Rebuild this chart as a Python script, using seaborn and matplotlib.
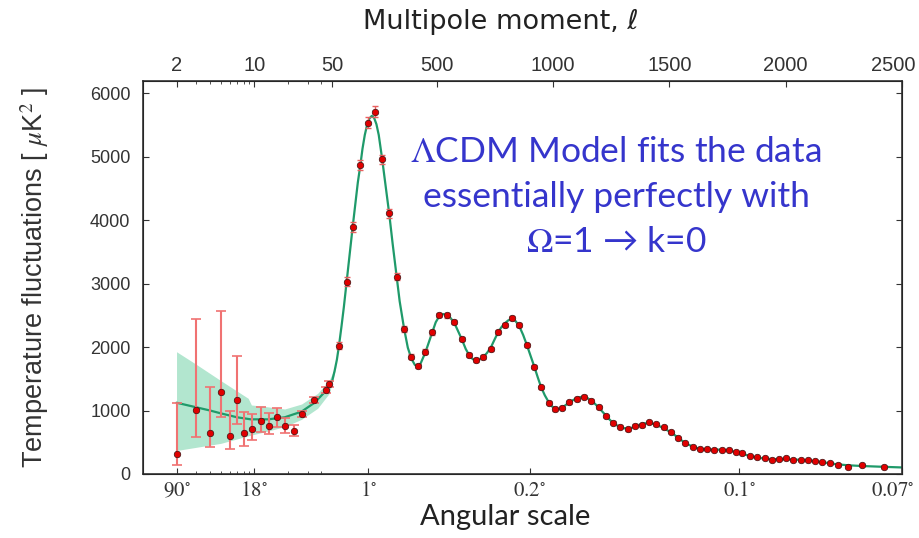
import numpy as np
import matplotlib
matplotlib.use('Agg')
import matplotlib.pyplot as plt
from matplotlib.ticker import FixedLocator, NullFormatter
from matplotlib.transforms import ScaledTranslation
import seaborn as sns

# low-ell points (binned), with asymmetric error bars
lo_ell = [2, 3, 4, 5, 6, 7, 8, 9.5, 11.5, 13.5, 16, 18.9, 22.6, 26.9, 34.3, 44.2, 46.7]
lo_D = [310, 1008, 651, 1286, 598, 1165, 640, 714, 840, 761, 893, 761, 682, 945, 1165, 1323, 1417]
lo_up = [1113, 2441, 1365, 2572, 992, 1863, 982, 940, 1050, 955, 1045, 887, 772, 1000, 1210, 1370, 1460]
lo_dn = [142, 578, 420, 903, 394, 783, 446, 535, 656, 625, 745, 651, 598, 890, 1120, 1280, 1375]

# high-ell binned points
hi_ell = [79, 112, 138, 171, 203, 234, 264, 295, 327, 359,
          389, 418, 451, 481, 511, 543, 575, 608, 639, 669,
          698, 731, 763, 791, 823, 854, 888, 919, 948, 981,
          1010, 1040, 1070, 1103, 1132, 1164, 1196, 1228, 1256, 1289,
          1321, 1350, 1381, 1411, 1443, 1475, 1505, 1536, 1568, 1601,
          1631, 1663, 1693, 1725, 1756, 1785, 1814, 1846, 1878, 1910,
          1941, 1971, 2003, 2033, 2064, 2096, 2126, 2158, 2190, 2223,
          2266, 2326, 2421]
hi_D = [2021, 3030, 3895, 4866, 5533, 5706, 4956, 4105, 3110, 2283,
        1845, 1701, 1923, 2231, 2504, 2499, 2394, 2121, 1869, 1795,
        1837, 1969, 2236, 2341, 2462, 2341, 2025, 1690, 1365, 1123,
        1024, 1045, 1129, 1181, 1216, 1152, 1050, 913, 808, 745,
        703, 761, 766, 819, 782, 735, 667, 572, 493, 430,
        394, 394, 383, 383, 373, 352, 331, 283, 263, 247,
        220, 236, 247, 220, 226, 216, 200, 189, 173, 142,
        115, 137, 115]
hi_err = [60, 70, 80, 80, 85, 85, 75, 65, 55, 45,
          40, 38, 38, 38, 38, 38, 36, 34, 32, 32,
          32, 32, 32, 32, 32, 30, 30, 28, 26, 25,
          24, 24, 24, 24, 24, 22, 22, 22, 20, 20,
          20, 20, 20, 20, 20, 20, 18, 18, 18, 18,
          18, 18, 18, 18, 18, 18, 18, 18, 18, 18,
          18, 18, 18, 18, 18, 18, 18, 18, 18, 18,
          18, 18, 18]

# best-fit model curve
model_ell = [2, 3, 4, 5, 7, 9.3, 13.3, 18.7, 26.5, 34.7, 44, 50,
             60, 70, 79, 90, 100, 112, 125, 138, 150, 160, 171, 180, 190, 200,
             210, 220, 230, 240, 250, 264, 280, 295, 310, 327, 340, 359, 375, 390,
             405, 418, 430, 451, 466, 481, 495, 511, 527, 543, 558, 575, 590, 608,
             624, 639, 654, 669, 684, 698, 714, 731, 747, 763, 777, 791, 807, 823,
             838, 854, 871, 888, 904, 919, 934, 948, 964, 981, 995, 1010, 1025, 1040,
             1055, 1070, 1086, 1103, 1118, 1132, 1148, 1164, 1180, 1196, 1212, 1228,
             1242, 1256, 1272, 1289, 1305, 1321, 1336, 1350, 1366, 1381, 1396, 1411,
             1427, 1443, 1459, 1475, 1490, 1505, 1520, 1536, 1552, 1568, 1584, 1601,
             1616, 1631, 1647, 1663, 1678, 1693, 1709, 1725, 1740, 1756, 1770, 1785,
             1800, 1814, 1830, 1846, 1862, 1878, 1894, 1910, 1941, 1971, 2003, 2033,
             2064, 2096, 2126, 2158, 2190, 2223, 2266, 2326, 2380, 2421, 2460, 2500]
model_D = [1123, 1050, 1000, 955, 893, 861, 861, 893, 982, 1123, 1312, 1470,
           1620, 1800, 2020, 2330, 2630, 3030, 3460, 3895, 4280, 4590, 4866, 5120, 5340, 5500,
           5600, 5640, 5610, 5510, 5340, 4980, 4530, 4100, 3620, 3110, 2720, 2290, 1990, 1820,
           1720, 1700, 1740, 1920, 2080, 2240, 2390, 2490, 2520, 2500, 2460, 2380, 2260, 2115,
           1970, 1870, 1810, 1790, 1805, 1840, 1900, 1985, 2110, 2230, 2310, 2370, 2420, 2440,
           2410, 2330, 2190, 2020, 1850, 1690, 1520, 1370, 1240, 1130, 1065, 1030, 1025, 1048,
           1090, 1130, 1165, 1195, 1212, 1215, 1195, 1155, 1105, 1045, 980, 913,
           860, 810, 770, 740, 722, 715, 725, 745, 770, 788, 798, 800,
           792, 775, 750, 720, 690, 660, 620, 575, 530, 490, 458, 432,
           412, 398, 390, 387, 386, 385, 384, 382, 378, 370, 358, 348,
           335, 320, 300, 283, 268, 258, 250, 243, 235, 233, 231, 228,
           222, 212, 200, 185, 168, 152, 138, 126, 118, 113, 108, 103]

# cosmic variance band at low ell
band_ell = [2, 3, 5, 8.8, 9.4, 11.5, 18.7, 26.5, 37, 47, 55, 65]
band_hi = [1926, 1728, 1470, 1192, 1087, 1071, 1024, 1102, 1270, 1480, 1620, 1740]
band_lo = [370, 420, 483, 600, 614, 650, 745, 861, 1035, 1270, 1500, 1680]

top_ell = [2, 10, 50, 500, 1000, 1500, 2000, 2500]
top_labels = ['2', '10', '50', '500', '1000', '1500', '2000', '2500']
minor_ell = [3, 4, 5, 6, 7, 8, 9, 20, 30, 40]
deg_ell = [2, 10, 205, 900, 1800, 2500]
deg_labels = [r'$90^{\circ}$', r'$18^{\circ}$', r'$1^{\circ}$', r'$0.2^{\circ}$',
              r'$0.1^{\circ}$', r'$0.07^{\circ}$']

sns.set_style('ticks')
plt.rcParams['font.family'] = ['Liberation Sans', 'DejaVu Sans']
plt.rcParams['mathtext.fontset'] = 'stix'

# hybrid axis: log below ell=50, linear above
L_BREAK = 50.0
K_LIN = 0.002088


def fwd(l):
    l = np.asarray(l, dtype=float)
    lg = np.log10(np.clip(l, 1e-3, L_BREAK))
    return np.where(l <= L_BREAK, lg, np.log10(L_BREAK) + (l - L_BREAK) * K_LIN)


def inv(u):
    u = np.asarray(u, dtype=float)
    ub = np.log10(L_BREAK)
    return np.where(u <= ub, 10 ** np.clip(u, -5, ub), L_BREAK + (u - ub) / K_LIN)


fig = plt.figure(figsize=(9.19, 5.38), dpi=100)
ax = fig.add_axes([143 / 919, 64 / 538, 759 / 919, 393 / 538])
ax.set_xscale('function', functions=(fwd, inv))
ax.set_xlim(1, 2500)
ax.set_ylim(0, 6190)

ax.fill_between(band_ell, band_lo, band_hi, color='#b2e6cf', lw=0, zorder=1)
sns.lineplot(x=model_ell, y=model_D, ax=ax, color='#1f9a6a', lw=1.6,
             estimator=None, sort=False, zorder=2)
lo_arr = np.array(lo_D)
ax.errorbar(lo_ell, lo_D, yerr=[lo_arr - np.array(lo_dn), np.array(lo_up) - lo_arr],
            fmt='none', ecolor='#f07272', elinewidth=1.5, capsize=3.5, capthick=1.2, zorder=3)
ax.errorbar(hi_ell, hi_D, yerr=hi_err, fmt='none', ecolor='#e86060',
            elinewidth=1.0, capsize=2.5, capthick=1.0, zorder=3)
sns.scatterplot(x=lo_ell + hi_ell, y=lo_D + hi_D, ax=ax, color='#e00000',
                edgecolor='#3a1010', linewidth=0.5, s=22, zorder=4)

for sp in ax.spines.values():
    sp.set_color('#333333')
    sp.set_linewidth(1.2)

ax.set_yticks(range(0, 7000, 1000))
ax.tick_params(axis='y', which='both', direction='in', left=True, right=True,
               labelsize=13, length=4, pad=9, colors='#333333')
ax.set_xticks(deg_ell)
ax.set_xticklabels(deg_labels)
ax.xaxis.set_minor_locator(FixedLocator(minor_ell))
ax.xaxis.set_minor_formatter(NullFormatter())

ax2 = ax.twiny()
ax2.set_xscale('function', functions=(fwd, inv))
ax2.set_xlim(1, 2500)
ax2.set_xticks(top_ell)
ax2.set_xticklabels(top_labels)
ax2.xaxis.set_minor_locator(FixedLocator(minor_ell))
ax2.xaxis.set_minor_formatter(NullFormatter())

ax.tick_params(axis='x', which='major', direction='in', length=4, labelsize=15, pad=5,
               colors='#333333')
ax.tick_params(axis='x', which='minor', direction='in', length=2, colors='#333333')
ax2.tick_params(axis='x', which='major', direction='in', length=4, labelsize=14.5, pad=4,
                colors='#333333')
ax2.tick_params(axis='x', which='minor', direction='in', length=2, colors='#333333')

# the last labels sit on the right spine; nudge them inside the canvas
shift = ScaledTranslation(-9 / 100, 0, fig.dpi_scale_trans)
for lab in (ax.get_xticklabels()[-1], ax2.get_xticklabels()[-1]):
    lab.set_transform(lab.get_transform() + shift)

ax.set_ylabel('Temperature fluctuations [ $\\mu$K$^2$ ]', fontsize=19.5, color='#333333',
              labelpad=28)
fig.text(501 / 919, 1 - 22 / 538, 'Multipole moment, \u2113', ha='center', va='center',
         fontsize=19.5, family=['DejaVu Sans'], color='#222222')
fig.text(505 / 919, 1 - 517 / 538, 'Angular scale', ha='center', va='center',
         fontsize=21, family=['Lato', 'DejaVu Sans'], color='#222222')

note_color = '#3535cc'
fig.text(616 / 919, 1 - 152 / 538, r'$\Lambda$CDM Model fits the data', ha='center',
         va='center', fontsize=25.5, family=['Lato', 'DejaVu Sans'], color=note_color)
fig.text(616 / 919, 1 - 197 / 538, 'essentially perfectly with', ha='center',
         va='center', fontsize=25.5, family=['Lato', 'DejaVu Sans'], color=note_color)
fig.text(616 / 919, 1 - 242 / 538, '$\\Omega$=1 \u2192 k=0', ha='center',
         va='center', fontsize=25.5, family=['Lato', 'DejaVu Sans'], color=note_color)

fig.savefig('out.png', dpi=100)
